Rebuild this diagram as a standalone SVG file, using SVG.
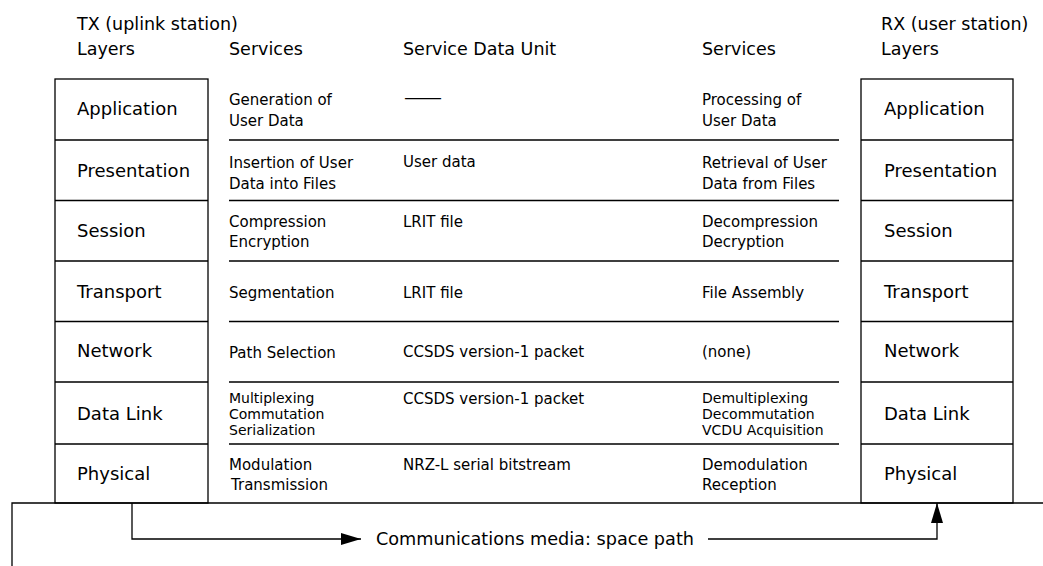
<svg xmlns="http://www.w3.org/2000/svg" width="1043" height="566" viewBox="0 0 1043 566">
<style>
  text { font-family: "DejaVu Sans", "Liberation Sans", sans-serif; fill: #000; }
  .hdr { font-size: 17.5px; }
  .lyr { font-size: 18px; }
  .svc { font-size: 15px; }
  .svc3 { font-size: 14px; }
  .box { fill: #fff; stroke: #000; stroke-width: 1.3; }
  .ln { fill: none; stroke: #000; stroke-width: 1.3; }
</style>
<defs>
  <marker id="arr" markerUnits="userSpaceOnUse" markerWidth="21" markerHeight="12" refX="20" refY="6" orient="auto">
    <path d="M0,0 L20,6 L0,12 z" fill="#000"/>
  </marker>
</defs>
<rect width="1043" height="566" fill="#fff"/>

<g id="headers">
  <text class="hdr" x="77" y="29.5">TX (uplink station)</text>
  <text class="hdr" x="77" y="55">Layers</text>
  <text class="hdr" x="229" y="55">Services</text>
  <text class="hdr" x="403" y="55">Service Data Unit</text>
  <text class="hdr" x="702" y="55">Services</text>
  <text class="hdr" x="881" y="29.5">RX (user station)</text>
  <text class="hdr" x="881" y="55">Layers</text>
</g>

<g id="tx-stack">
  <rect class="box" x="55" y="79" width="153" height="424"/>
  <path class="ln" d="M55,140H208M55,200.5H208M55,261H208M55,321.5H208M55,382H208M55,444H208"/>
  <text class="lyr" x="77" y="115">Application</text>
  <text class="lyr" x="77" y="177">Presentation</text>
  <text class="lyr" x="77" y="237">Session</text>
  <text class="lyr" x="77" y="298">Transport</text>
  <text class="lyr" x="77" y="357">Network</text>
  <text class="lyr" x="77" y="420">Data Link</text>
  <text class="lyr" x="77" y="480">Physical</text>
</g>

<g id="rx-stack">
  <rect class="box" x="861" y="79" width="152" height="424"/>
  <path class="ln" d="M861,140H1013M861,200.5H1013M861,261H1013M861,321.5H1013M861,382H1013M861,444H1013"/>
  <text class="lyr" x="884" y="115">Application</text>
  <text class="lyr" x="884" y="177">Presentation</text>
  <text class="lyr" x="884" y="237">Session</text>
  <text class="lyr" x="884" y="298">Transport</text>
  <text class="lyr" x="884" y="357">Network</text>
  <text class="lyr" x="884" y="420">Data Link</text>
  <text class="lyr" x="884" y="480">Physical</text>
</g>

<g id="table-rules">
  <path class="ln" d="M229,140H839M229,200.5H839M229,261H839M229,321.5H839M229,382H839M229,444H839"/>
</g>

<g id="tx-services">
  <text class="svc" x="229" y="105">Generation of</text>
  <text class="svc" x="229" y="126">User Data</text>
  <text class="svc" x="229" y="168">Insertion of User</text>
  <text class="svc" x="229" y="189">Data into Files</text>
  <text class="svc" x="229" y="226.5">Compression</text>
  <text class="svc" x="229" y="246.5">Encryption</text>
  <text class="svc" x="229" y="297.5">Segmentation</text>
  <text class="svc" x="229" y="358">Path Selection</text>
  <text class="svc3" x="229" y="403">Multiplexing</text>
  <text class="svc3" x="229" y="419">Commutation</text>
  <text class="svc3" x="229" y="435">Serialization</text>
  <text class="svc" x="229" y="470">Modulation</text>
  <text class="svc" x="231" y="490">Transmission</text>
</g>

<g id="sdu">
  <text class="svc" x="403" y="103" textLength="40" lengthAdjust="spacingAndGlyphs">—</text>
  <text class="svc" x="403" y="167">User data</text>
  <text class="svc" x="403" y="227">LRIT file</text>
  <text class="svc" x="403" y="298">LRIT file</text>
  <text class="svc" x="403" y="357">CCSDS version-1 packet</text>
  <text class="svc" x="403" y="404">CCSDS version-1 packet</text>
  <text class="svc" x="403" y="470">NRZ-L serial bitstream</text>
</g>

<g id="rx-services">
  <text class="svc" x="702" y="105">Processing of</text>
  <text class="svc" x="702" y="126">User Data</text>
  <text class="svc" x="702" y="168">Retrieval of User</text>
  <text class="svc" x="702" y="189">Data from Files</text>
  <text class="svc" x="702" y="226.5">Decompression</text>
  <text class="svc" x="702" y="246.5">Decryption</text>
  <text class="svc" x="702" y="298">File Assembly</text>
  <text class="svc" x="702" y="357">(none)</text>
  <text class="svc3" x="702" y="403">Demultiplexing</text>
  <text class="svc3" x="702" y="419">Decommutation</text>
  <text class="svc3" x="702" y="435">VCDU Acquisition</text>
  <text class="svc" x="702" y="470">Demodulation</text>
  <text class="svc" x="702" y="490">Reception</text>
</g>

<g id="connectors">
  <path class="ln" d="M12,566V503H1043"/>
  <path class="ln" d="M132,503V539H361" marker-end="url(#arr)"/>
  <path class="ln" d="M708,539H937V503" marker-end="url(#arr)"/>
  <text class="hdr" x="376" y="545" textLength="318" lengthAdjust="spacingAndGlyphs">Communications media: space path</text>
</g>
</svg>
